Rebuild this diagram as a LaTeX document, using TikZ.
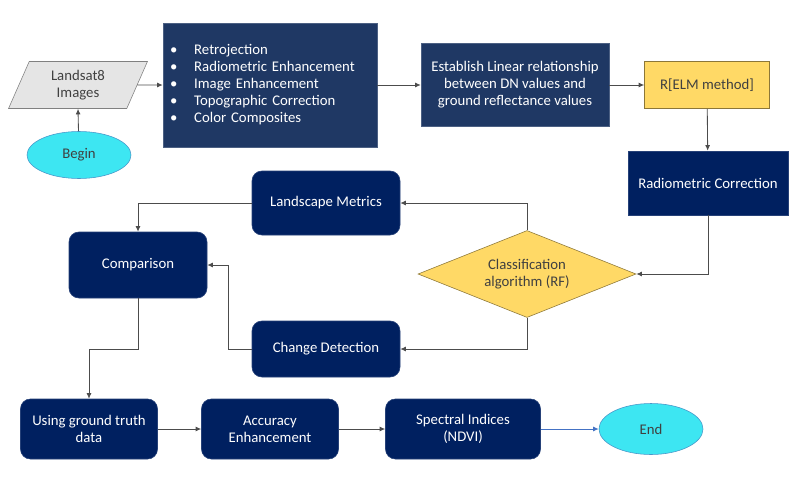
\documentclass[tikz,border=0pt]{standalone}
\usepackage{fontspec}
\setmainfont{Carlito}
\usetikzlibrary{shapes.geometric,arrows.meta}
\definecolor{navy}{HTML}{002060}
\definecolor{slate}{HTML}{1F3864}
\definecolor{gold}{HTML}{FFD966}
\definecolor{aqua}{HTML}{3DE6F2}
\definecolor{ink}{HTML}{404040}
\definecolor{linkblue}{HTML}{4472C4}
\newcommand{\pxu}{0.025cm}
\tikzset{
  sz/.style 2 args={minimum width=#1*\pxu, minimum height=#2*\pxu, inner sep=0pt},
  navybox/.style={rectangle, rounded corners=7pt, fill=navy, draw=navy!85!white, text=white, align=center},
  slatebox/.style={rectangle, fill=slate, draw=slate!80!white, text=white, align=center},
  goldbox/.style={fill=gold, draw=black!45!gold, text=ink, align=center},
  oval/.style={ellipse, fill=aqua, draw={rgb,255:red,70;green,150;blue,200}, text=ink},
  arr/.style={-{Latex[length=4pt,width=3.5pt]}, black!70, line width=0.6pt}
}
\begin{document}
\begin{tikzpicture}[x=\pxu, y=-\pxu, every node/.style={font=\fontsize{10.5}{12.1}\selectfont}]
  \useasboundingbox (0,0) rectangle (800,500);
  % top row
  \node[trapezium, trapezium left angle=69, trapezium right angle=111, trapezium stretches=true,
        fill=black!10, draw=black!50, text=ink, align=center, sz={139}{47}] (land) at (78,85) {Landsat8\\Images};
  \node[oval, sz={104}{47}] (begin) at (79,155) {Begin};
  \node[slatebox, sz={214}{124}, text width=200*\pxu, align=left] (bul) at (270,85)
    {\textbullet\hspace{12pt}Retrojection\\
     \textbullet\hspace{12pt}Radiometric Enhancement\\
     \textbullet\hspace{12pt}Image Enhancement\\
     \textbullet\hspace{12pt}Topographic Correction\\
     \textbullet\hspace{12pt}Color Composites};
  \node[slatebox, sz={188}{83}] (est) at (515,85)
    {Establish Linear relationship\\between DN values and\\ground reflectance values};
  \node[goldbox, rectangle, sz={125}{47}] (elm) at (707,85) {R[ELM method]};
  \node[navybox, rounded corners=0pt, sz={160}{64}] (rad) at (708,183) {Radiometric Correction};
  % middle part
  \node[goldbox, diamond, aspect=2.5, sz={218}{87}] (cls) at (527,274) {Classification\\algorithm (RF)};
  \node[navybox, sz={148}{64}] (lms) at (326,203) {Landscape Metrics};
  \node[navybox, sz={148}{56}] (chg) at (326,349) {Change Detection};
  \node[navybox, sz={138}{66}] (cmp) at (138,265) {Comparison};
  % bottom row
  \node[navybox, sz={137}{60}] (gt) at (89,429) {Using ground truth\\data};
  \node[navybox, sz={137}{60}] (acc) at (270,429) {Accuracy\\Enhancement};
  \node[navybox, sz={155}{60}] (spec) at (463,429) {Spectral Indices\\(NDVI)};
  \node[oval, sz={104}{51}] (end) at (651,429) {End};

  \draw[arr] (begin) -- (land.south);
  \draw[arr] (land.east) -- (bul);
  \draw[arr] (bul) -- (est);
  \draw[arr] (est) -- (elm);
  \draw[arr] (elm) -- (rad);
  \draw[arr] (rad.south) |- (cls.east);
  \draw[arr] (cls.north) |- (lms.east);
  \draw[arr] (cls.south) |- (chg.east);
  \draw[arr] (lms.west) -| (cmp.north);
  \draw[arr] (chg.west) -- ++(-23,0) |- (cmp.east);
  \draw[arr] (cmp.south) -- ++(0,51) -| (gt.north);
  \draw[arr] (gt) -- (acc);
  \draw[arr] (acc) -- (spec);
  \draw[arr, linkblue] (spec) -- (end);
\end{tikzpicture}
\end{document}
